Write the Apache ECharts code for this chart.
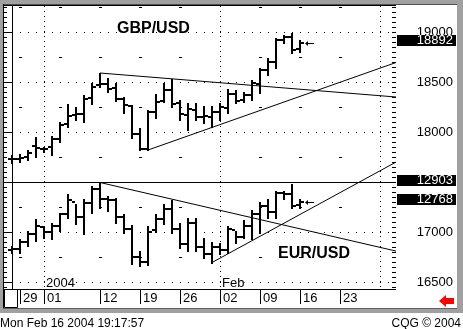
<!DOCTYPE html>
<html><head><meta charset="utf-8">
<script src="https://cdn.jsdelivr.net/npm/echarts@6/dist/echarts.min.js"></script>
<style>html,body{margin:0;padding:0;background:#fff}#c{width:463px;height:329px}</style>
</head><body><div id="c"></div>
<script>
const FONT = '"Liberation Sans", Arial, sans-serif';
// x = trading-day index, 0 = Fri Dec 26 2003
const tickIdx = [1, 4, 11, 16, 21, 26, 31, 36, 41];
const tickDates = ['29', '01', '12', '19', '26', '02', '09', '16', '23'];
const monthIdx = [4, 26, 46];
const monthNames = ['2004', 'Feb', ''];
const gbpLevels = [16500, 17000, 17500, 18000, 18500, 19000];
const halfLevels = [16750, 17250, 17750, 18250, 18750, 19250];
const weekIdx = [1, 6, 11, 16, 21, 31, 36, 41];

const gbpOpen  = [17730,17730,17750,17860,17830,17850,17930,18080,18170,18180,18340,18470,18480,18440,18330,18260,17980,17830,18200,18310,18420,18290,18170,18220,18150,18150,18200,18240,18380,18320,18370,18480,18620,18700,18920,18950,18830];
const gbpHigh  = [17770,17780,17820,17950,17850,17960,18100,18280,18250,18370,18490,18590,18540,18490,18350,18270,18040,18220,18380,18490,18530,18320,18290,18290,18260,18260,18290,18430,18420,18400,18520,18640,18740,18940,18970,18990,18920];
const gbpLow   = [17690,17700,17720,17750,17800,17770,17900,18050,18120,18100,18280,18450,18400,18310,18190,17940,17820,17820,18140,18300,18250,18120,18020,18120,18090,18050,18120,18190,18290,18300,18320,18390,18570,18640,18890,18790,18800];
const gbpClose = [17730,17740,17790,17840,17830,17930,18070,18160,18180,18330,18450,18480,18430,18330,18270,17980,17830,18200,18300,18420,18280,18180,18230,18150,18160,18200,18250,18380,18310,18370,18490,18620,18700,18920,18950,18820,18892];

const eurOpen  = [12430,12440,12490,12540,12590,12560,12600,12680,12770,12660,12760,12860,12790,12780,12660,12580,12380,12350,12570,12650,12720,12580,12470,12620,12450,12400,12450,12430,12570,12520,12600,12680,12740,12700,12830,12820,12745];
const eurHigh  = [12462,12511,12567,12651,12602,12623,12693,12826,12756,12791,12882,12903,12812,12798,12686,12609,12427,12602,12686,12756,12784,12623,12658,12658,12518,12490,12483,12602,12567,12644,12714,12770,12791,12847,12847,12895,12791];
const eurLow   = [12413,12413,12462,12497,12518,12511,12567,12658,12616,12546,12693,12728,12707,12623,12553,12336,12322,12329,12560,12616,12553,12448,12427,12427,12378,12343,12406,12413,12483,12518,12511,12553,12658,12658,12791,12728,12728];
const eurClose = [12440,12490,12540,12600,12560,12600,12680,12780,12660,12760,12860,12790,12780,12660,12580,12380,12350,12560,12650,12720,12580,12470,12620,12450,12400,12450,12430,12580,12520,12600,12680,12740,12700,12830,12820,12740,12768];

const gbpResistance = [[11, 18590], [48, 18350]];
const gbpSupport = [[17, 17820], [48, 18695]];
const eurLevel = [[-1, 12903], [48, 12903]];
const eurResistance = [[11, 12903], [48, 12423]];
const eurSupport = [[25, 12343], [48, 13046]];

const gbpLast = 18892, eurLast = 12768, eurMark = 12903;

const minorTicks = [];
for (let v = 16450; v <= 19250; v += 50) minorTicks.push(v);

function ohlc(params, api) {
  const x = api.value(0);
  const h = api.coord([x, api.value(2)]);
  const l = api.coord([x, api.value(3)]);
  const o = api.coord([x, api.value(1)]);
  const c = api.coord([x, api.value(4)]);
  const cx = Math.round(h[0]);
  const yh = Math.round(h[1]), yl = Math.round(l[1]), yo = Math.round(o[1]), yc = Math.round(c[1]);
  return { type: 'group', children: [
    { type: 'rect', shape: { x: cx - 1, y: yh, width: 2, height: Math.max(1, yl - yh + 1) }, style: { fill: '#000' } },
    { type: 'rect', shape: { x: cx - 4, y: yo - 1, width: 3, height: 2 }, style: { fill: '#000' } },
    { type: 'rect', shape: { x: cx + 1, y: yc - 1, width: 3, height: 2 }, style: { fill: '#000' } }
  ]};
}
function lastArrow(params, api) {
  const p = api.coord([api.value(0), api.value(1)]);
  const x = Math.round(p[0]), y = Math.round(p[1]);
  return { type: 'group', children: [
    { type: 'polygon', shape: { points: [[x - 3, y + 0.5], [x, y - 2], [x, y + 3]] }, style: { fill: '#000' } },
    { type: 'rect', shape: { x: x, y: y, width: 6, height: 1 }, style: { fill: '#000' } }
  ]};
}
function priceBox(params, api) {
  const p = api.coord([48, api.value(1)]);
  const y = Math.round(p[1]);
  return { type: 'group', children: [
    { type: 'rect', shape: { x: 397, y: y - 8, width: 59, height: 11 }, style: { fill: '#000' } },
    { type: 'text', style: { text: String(api.value(1)), x: 453, y: y - 2.5, align: 'right', verticalAlign: 'middle', fill: '#fff', font: '13px ' + FONT } }
  ]};
}
function trend(data, yi) {
  return { type: 'line', xAxisIndex: 0, yAxisIndex: yi, data: data, showSymbol: false, silent: true, z: 3,
    lineStyle: { color: '#000', width: 1 }, animation: false };
}
const yBase = (pos, extra) => Object.assign({ type: 'value', position: pos, min: 16430, max: 19260, splitLine: { show: false },
  axisLine: { show: false }, axisLabel: { show: false }, axisTick: { show: false } }, extra);

const option = {
  animation: false,
  backgroundColor: '#fff',
  grid: { left: 4, top: 6, right: 67, bottom: 40, show: false },
  xAxis: [{
    type: 'value', min: -1, max: 48, position: 'bottom',
    axisLine: { show: false }, splitLine: { show: false },
    axisTick: { show: true, customValues: tickIdx, length: 15, lineStyle: { color: '#000' } },
    axisLabel: { customValues: tickIdx, formatter: v => tickDates[tickIdx.indexOf(v)], align: 'left', padding: [0, 0, 0, 3],
      margin: 2, color: '#000', fontSize: 13, fontFamily: FONT, lineHeight: 15 }
  }],
  yAxis: [
    yBase('right', { axisLine: { show: true, lineStyle: { color: '#000' } },
      axisTick: { show: true, inside: true, length: 6, customValues: gbpLevels, lineStyle: { color: '#000' } },
      axisLabel: { show: true, customValues: gbpLevels, formatter: v => String(v), align: 'right', margin: 57, padding: [0, 0, 4, 0], color: '#000', fontSize: 13, fontFamily: FONT } }),
    yBase('right', { axisTick: { show: true, inside: true, length: 4, customValues: minorTicks, lineStyle: { color: '#000' } } }),
    yBase('left', { axisTick: { show: true, inside: true, length: 6, customValues: gbpLevels, lineStyle: { color: '#000' } } }),
    yBase('left', { axisTick: { show: true, inside: true, length: 3, customValues: minorTicks, lineStyle: { color: '#000' } } }),
    { type: 'value', min: 12157.5, max: 14138.5, show: false }
  ],
  series: [
    { type: 'custom', xAxisIndex: 0, yAxisIndex: 0, silent: true, z: 1, data: gbpLevels.map(v => [-1, v]), encode: { x: 0, y: 1 },
      renderItem: (p, api) => {
        const a = api.coord([-1, api.value(1)]), b = api.coord([48, api.value(1)]);
        const y = Math.round(a[1]) + 0.5;
        return { type: 'line', shape: { x1: a[0], y1: y, x2: b[0], y2: y }, style: { stroke: '#000', lineWidth: 1, lineDash: [1, 7] } };
      } },
    { type: 'custom', xAxisIndex: 0, yAxisIndex: 0, silent: true, z: 1,
      data: halfLevels.flatMap(v => weekIdx.map(i => [i, v])), encode: { x: 0, y: 1 },
      renderItem: (p, api) => {
        const a = api.coord([api.value(0), api.value(1)]);
        return { type: 'rect', shape: { x: Math.round(a[0]) - 1, y: Math.round(a[1]), width: 3, height: 1 }, style: { fill: '#000' } };
      } },
    { type: 'custom', xAxisIndex: 0, yAxisIndex: 0, silent: true, z: 1,
      data: monthIdx.map((i, k) => [i, 16430]), encode: { x: 0, y: 1 },
      renderItem: (p, api) => {
        const a = api.coord([api.value(0), 19260]), b = api.coord([api.value(0), 16430]);
        const x = Math.round(a[0]) + 0.5;
        const name = monthNames[p.dataIndex];
        const ch = [{ type: 'line', shape: { x1: x, y1: a[1], x2: x, y2: b[1] }, style: { stroke: '#000', lineWidth: 1, lineDash: [1, 4] } }];
        if (name) ch.push({ type: 'text', style: { text: name, x: x + 1.5, y: 283.5, verticalAlign: 'middle', align: 'left', fill: '#000', font: '13px ' + FONT, backgroundColor: '#fff' } });
        return { type: 'group', children: ch };
      } },
    trend(gbpResistance, 0), trend(gbpSupport, 0),
    trend(eurLevel, 4), trend(eurResistance, 4), trend(eurSupport, 4),
    { type: 'custom', name: 'GBP/USD', xAxisIndex: 0, yAxisIndex: 0, z: 5, renderItem: ohlc, encode: { x: 0, y: [1, 2, 3, 4] },
      data: gbpOpen.map((o, i) => [i, o, gbpHigh[i], gbpLow[i], gbpClose[i]]) },
    { type: 'custom', name: 'EUR/USD', xAxisIndex: 0, yAxisIndex: 4, z: 5, renderItem: ohlc, encode: { x: 0, y: [1, 2, 3, 4] },
      data: eurOpen.map((o, i) => [i, o, eurHigh[i], eurLow[i], eurClose[i]]) },
    { type: 'custom', xAxisIndex: 0, yAxisIndex: 0, z: 5, renderItem: lastArrow, encode: { x: 0, y: 1 }, data: [[gbpOpen.length, gbpLast]] },
    { type: 'custom', xAxisIndex: 0, yAxisIndex: 4, z: 5, renderItem: lastArrow, encode: { x: 0, y: 1 }, data: [[eurOpen.length, eurLast]] },
    { type: 'custom', xAxisIndex: 0, yAxisIndex: 0, z: 6, clip: false, renderItem: priceBox, encode: { x: 0, y: 1 }, data: [[48, gbpLast]] },
    { type: 'custom', xAxisIndex: 0, yAxisIndex: 4, z: 6, clip: false, renderItem: priceBox, encode: { x: 0, y: 1 }, data: [[48, eurMark], [48, eurLast]] }
  ],
  graphic: [
    { type: 'rect', z: 100, shape: { x: 0, y: 0, width: 463, height: 4 }, style: { fill: '#a0a0a0' } },
    { type: 'rect', z: 100, shape: { x: 0, y: 0, width: 3, height: 313 }, style: { fill: '#a0a0a0' } },
    { type: 'rect', z: 100, shape: { x: 457, y: 0, width: 6, height: 313 }, style: { fill: '#a0a0a0' } },
    { type: 'rect', z: 100, shape: { x: 0, y: 309, width: 463, height: 4 }, style: { fill: '#a0a0a0' } },
    { type: 'rect', z: 100, shape: { x: 3, y: 4, width: 454, height: 1 }, style: { fill: '#505050' } },
    { type: 'rect', z: 100, shape: { x: 3, y: 5, width: 393, height: 1 }, style: { fill: '#000' } },
    { type: 'rect', z: 100, shape: { x: 3, y: 4, width: 1, height: 305 }, style: { fill: '#000' } },
    { type: 'rect', z: 100, shape: { x: 3, y: 289, width: 393, height: 1 }, style: { fill: '#000' } },
    { type: 'rect', z: 100, shape: { x: 3, y: 308, width: 454, height: 1 }, style: { fill: '#606060' } },
    { type: 'rect', z: 100, shape: { x: 4.5, y: 289.5, width: 13, height: 18 }, style: { fill: '#fff', stroke: '#000', lineWidth: 1 } },
    { type: 'polygon', z: 100, shape: { points: [[439, 301], [446, 295], [446, 298], [454, 298], [454, 304], [446, 304], [446, 307]] }, style: { fill: '#ff0000' } },
    { type: 'text', z: 100, style: { text: 'GBP/USD', x: 117, y: 28.5, verticalAlign: 'middle', fill: '#000', font: 'bold 16px ' + FONT } },
    { type: 'text', z: 100, style: { text: 'EUR/USD', x: 278, y: 254, verticalAlign: 'middle', fill: '#000', font: 'bold 16px ' + FONT } },
    { type: 'text', z: 100, style: { text: 'Mon Feb 16 2004 19:17:57', x: 0, y: 324, verticalAlign: 'middle', fill: '#000', font: '12px ' + FONT } },
    { type: 'text', z: 100, style: { text: 'CQG \u00a9 2004', x: 461, y: 324, align: 'right', verticalAlign: 'middle', fill: '#000', font: '12px ' + FONT } }
  ]
};
const chart = echarts.init(document.getElementById('c'), null, { renderer: 'canvas', width: 463, height: 329 });
chart.setOption(option);
</script>
</body></html>
